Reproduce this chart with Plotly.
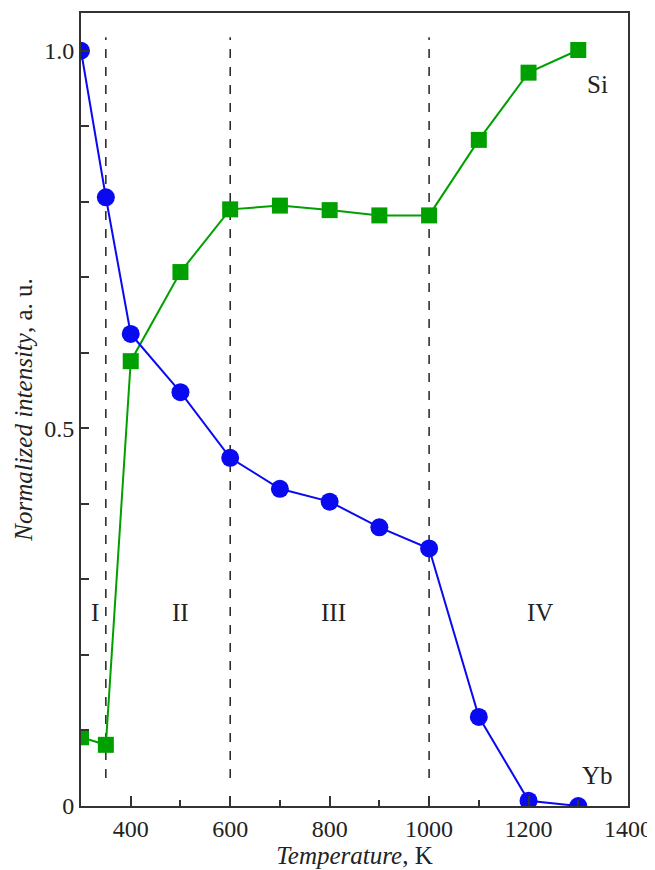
import plotly.graph_objects as go

temps = [300, 350, 400, 500, 600, 700, 800, 900, 1000, 1100, 1200, 1300]
yb_values = [1.0, 0.806, 0.625, 0.548, 0.461, 0.420, 0.403, 0.369, 0.341, 0.118, 0.007, 0.0]
si_values = [0.091, 0.081, 0.589, 0.707, 0.790, 0.795, 0.789, 0.782, 0.782, 0.882, 0.971, 1.001]
boundaries = [350, 600, 1000]
region_labels = ["I", "II", "III", "IV"]
region_x = [328, 501, 807, 1224]
region_y = 0.256
y_ticks = [0, 0.5, 1.0]
y_tick_text = ["0", "0.5", "1.0"]
x_ticks = [400, 600, 800, 1000, 1200, 1400]

FONT = "Liberation Serif, Times New Roman, serif"
BLUE = "#0a0af0"
GREEN = "#00a000"
AXC = "#333333"
TXT = "#222222"

fig = go.Figure()
for b in boundaries:
    fig.add_shape(type="line", x0=b, x1=b, y0=0.037, y1=1.018, xref="x", yref="y",
                  line=dict(color="black", width=1.3, dash="dash"), layer="below")

fig.add_trace(go.Scatter(x=temps, y=si_values, mode="lines+markers", name="Si",
                         line=dict(color=GREEN, width=2),
                         marker=dict(symbol="square", size=16, color=GREEN)))
fig.add_trace(go.Scatter(x=temps, y=yb_values, mode="lines+markers", name="Yb",
                         line=dict(color=BLUE, width=2),
                         marker=dict(symbol="circle", size=18, color=BLUE)))

for lab, xv in zip(region_labels, region_x):
    fig.add_annotation(x=xv, y=region_y, text=lab, showarrow=False,
                       font=dict(family=FONT, size=25, color=TXT))
fig.add_annotation(x=1338, y=0.955, text="Si", showarrow=False,
                   font=dict(family=FONT, size=25, color=TXT))
fig.add_annotation(x=1338, y=0.041, text="Yb", showarrow=False,
                   font=dict(family=FONT, size=25, color=TXT))

# page body has an 8px default margin; compensate so plot area sits at x 81..629, y 11..806
fig.update_layout(
    width=647, height=862,
    margin=dict(l=73, r=26, t=3, b=64),
    plot_bgcolor="white", paper_bgcolor="white",
    showlegend=False,
    font=dict(family=FONT, size=24, color=TXT),
    xaxis=dict(range=[300, 1400], tickvals=x_ticks, ticks="inside", ticklen=10,
               tickwidth=1.5, tickcolor=AXC, showline=True, linecolor=AXC, linewidth=2,
               mirror=True, showgrid=False, zeroline=False,
               minor=dict(dtick=100, tick0=0, ticks="inside", ticklen=6, tickwidth=1.5, tickcolor=AXC),
               title=dict(text="<i>Temperature</i>, K", standoff=0,
                          font=dict(family=FONT, size=25)),
               tickfont=dict(family=FONT, size=24)),
    yaxis=dict(range=[0, 1.05], tickvals=y_ticks, ticktext=y_tick_text, ticks="inside",
               ticklen=8, tickwidth=1.5, tickcolor=AXC, showline=True, linecolor=AXC,
               linewidth=2, mirror=True, showgrid=False, zeroline=False,
               minor=dict(dtick=0.1, tick0=0, ticks="inside", ticklen=8, tickwidth=1.5, tickcolor=AXC),
               title=dict(text="<i>Normalized intensity</i>, a. u.", standoff=4,
                          font=dict(family=FONT, size=25)),
               tickfont=dict(family=FONT, size=24)),
)

fig.write_html("out.html", config={"displayModeBar": False})
